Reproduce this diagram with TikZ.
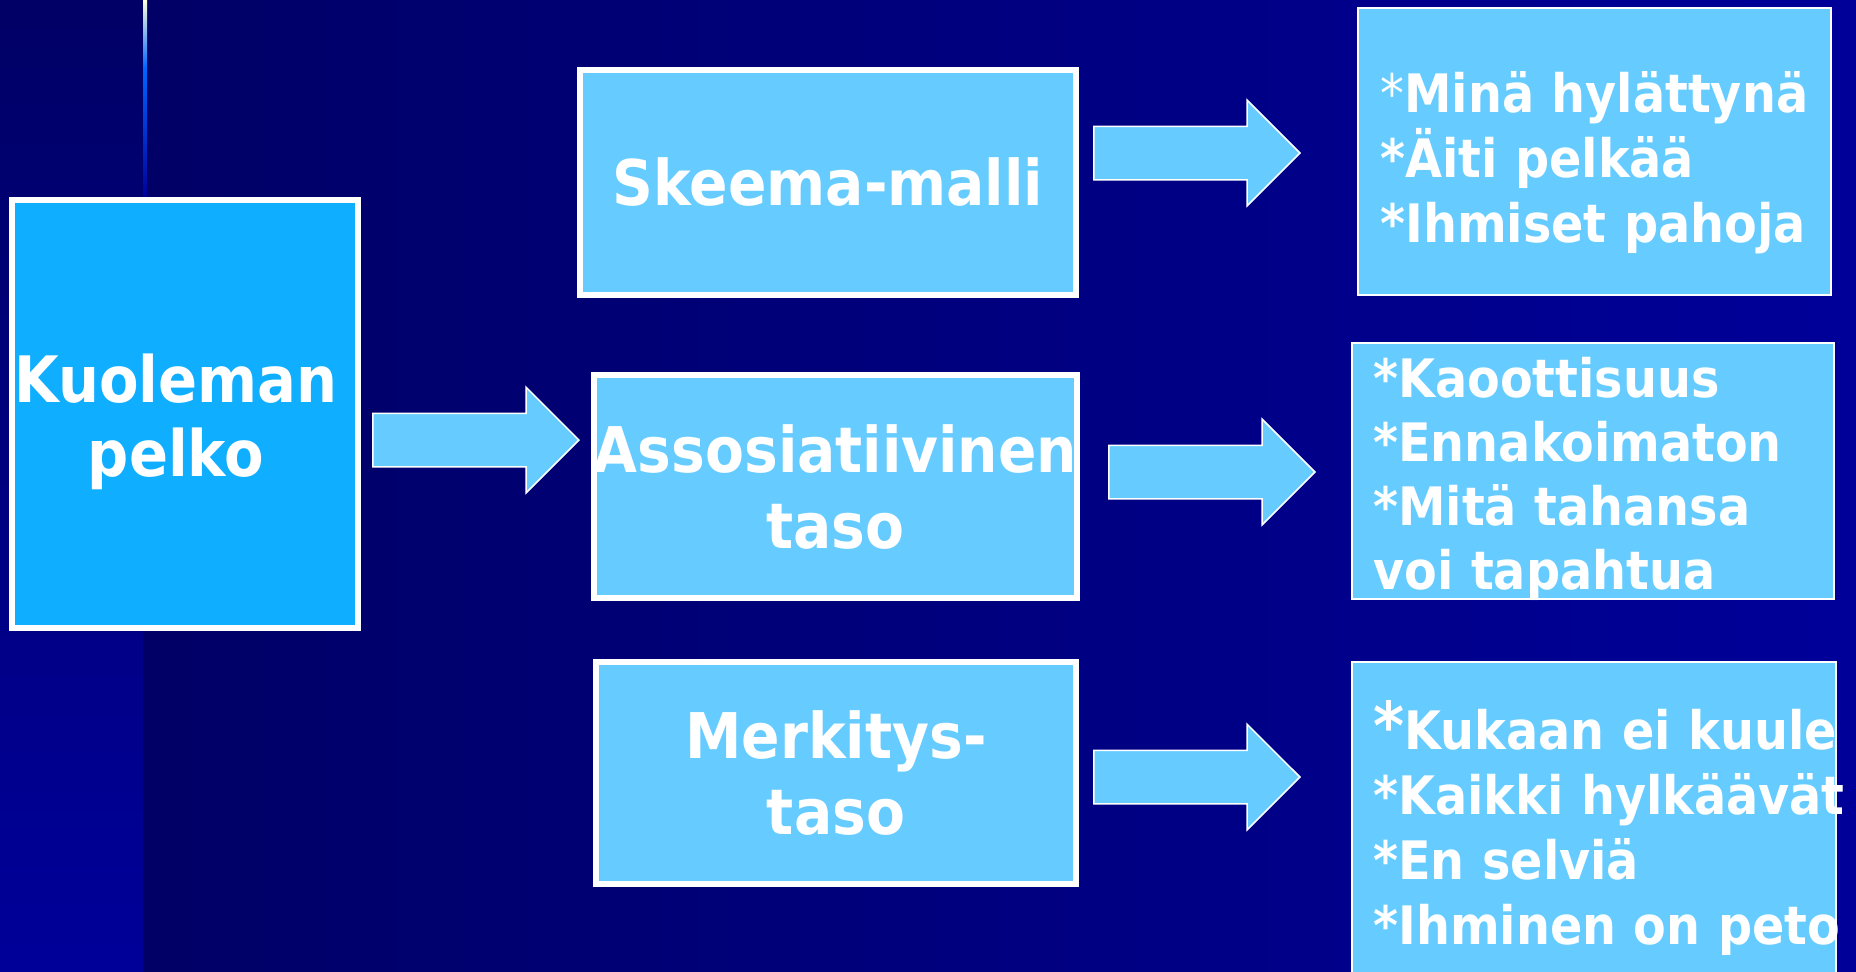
\documentclass[tikz,border=0pt]{standalone}
\usepackage{fontspec}
\setmainfont{DejaVu Sans Condensed}
\usepackage{tikz}
\usetikzlibrary{shapes.arrows, positioning, calc}
\definecolor{bgdark}{HTML}{000066}
\definecolor{bglight}{HTML}{000099}
\definecolor{rootblue}{HTML}{10AEFF}
\definecolor{boxblue}{HTML}{66CCFF}
\definecolor{glowblue}{HTML}{0066FF}
\definecolor{glowtop}{HTML}{FFFFDD}
\tikzstyle{rootbox} = [rectangle, draw=white, line width=3pt, fill=rootblue, minimum width=173pt, minimum height=214pt, inner sep=0pt]
\tikzstyle{roottext} = [text=white, align=center, text width=175pt, anchor=base, inner sep=0pt, font=\fontsize{32}{37}\selectfont\bfseries]
\tikzstyle{lvlbox} = [rectangle, draw=white, line width=3pt, fill=boxblue, text=white, align=center, inner sep=0pt, font=\fontsize{31.5}{38}\selectfont\bfseries]
\tikzstyle{resbox} = [rectangle, draw=white, line width=1pt, fill=boxblue, inner sep=0pt]
\tikzstyle{restext} = [text=white, align=left, text width=240pt, anchor=base west, inner sep=0pt, font=\fontsize{26.5}{32.5}\selectfont\bfseries]
\tikzstyle{blockarrow} = [single arrow, draw=white, line width=0.75pt, fill=boxblue, text height=0pt, text depth=0pt, inner xsep=0pt, inner ysep=13pt, minimum width=52pt, minimum height=103pt, single arrow head extend=13pt, anchor=tip]

\begin{document}
\begin{tikzpicture}[x=0.5pt, y=-0.5pt]
    \useasboundingbox (0,0) rectangle (1856,971);
    \clip (0,0) rectangle (1856,971);
    % background
    \shade[left color=bgdark, right color=bglight] (143,0) rectangle (1856,971);
    \shade[top color=bgdark, bottom color=bglight] (0,0) rectangle (143,971);
    \shade[top color=glowtop, bottom color=glowblue] (143,0) rectangle (147,68);
    \shade[top color=glowblue, bottom color=bglight] (143,68) rectangle (147,197);

    \node[rootbox] (root) at (185,414) {};
    \node[roottext] (root_txt) at (176,402) {Kuoleman\\pelko};

    \node[lvlbox, minimum width=248pt, minimum height=112.5pt] (lvl_1) at (828,182.5) {Skeema-malli};
    \node[lvlbox, minimum width=239.5pt, minimum height=111.5pt] (lvl_2) at (835.5,486.5) {Assosiatiivinen\\taso};
    \node[lvlbox, minimum width=240pt, minimum height=111pt] (lvl_3) at (836,773) {Merkitys-\\taso};

    \node[resbox, minimum width=236.5pt, minimum height=143.5pt] (res_1) at (1594.5,151.5) {};
    \node[resbox, minimum width=241pt, minimum height=128pt] (res_2) at (1593,471) {};
    \node[resbox, minimum width=242pt, minimum height=164pt] (res_3) at (1594,826) {};

    \node[restext] (res_1_txt) at (1380,112) {{\mdseries *}Minä hylättynä\\{*}Äiti pelkää\\{*}Ihmiset pahoja};
    \node[restext, font=\fontsize{26.5}{32}\selectfont\bfseries] (res_2_txt) at (1373,397) {{*}Kaoottisuus\\{*}Ennakoimaton\\{*}Mitä tahansa\\voi tapahtua};
    \node[restext] (res_3_txt) at (1373,749) {{\fontsize{33}{32.5}\selectfont *}Kukaan ei kuule\\{*}Kaikki hylkäävät\\{*}En selviä\\{*}Ihminen on peto};

    % block arrows
    \node[blockarrow] (arr_0) at (580,440) {};
    \node[blockarrow] (arr_1) at (1301,153) {};
    \node[blockarrow] (arr_2) at (1316,472) {};
    \node[blockarrow] (arr_3) at (1301,777) {};
\end{tikzpicture}
\end{document}
